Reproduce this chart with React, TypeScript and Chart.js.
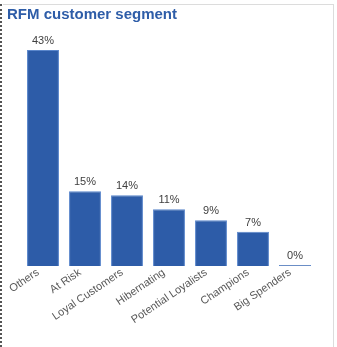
import React, { useEffect, useRef } from "react";
import { Chart, registerables } from "chart.js";

Chart.register(...registerables);

const categories = ["Others", "At Risk", "Loyal Customers", "Hibernating", "Potential Loyalists", "Champions", "Big Spenders"];
const shares = [43.0, 14.9, 14.1, 11.3, 9.1, 6.8, 0.2];
const shareLabels = ["43%", "15%", "14%", "11%", "9%", "7%", "0%"];

const valueLabelPlugin = {
  id: "valueLabels",
  afterDatasetsDraw(chart: any) {
    const ctx = chart.ctx;
    const meta = chart.getDatasetMeta(0);
    ctx.save();
    ctx.font = "11px 'Liberation Sans', Arial, sans-serif";
    ctx.fillStyle = "#404040";
    ctx.textAlign = "center";
    ctx.textBaseline = "alphabetic";
    meta.data.forEach((bar: any, i: number) => {
      ctx.fillText(shareLabels[i], bar.x, bar.y - 6);
    });
    ctx.restore();
  },
};

export default function App() {
  const ref = useRef<HTMLCanvasElement>(null);
  useEffect(() => {
    if (!ref.current) return;
    const chart = new Chart(ref.current, {
      type: "bar",
      data: {
        labels: categories,
        datasets: [
          {
            data: shares,
            backgroundColor: "#2d5ca8",
            borderColor: "#5a86cb",
            borderWidth: 1,
            barPercentage: 0.76,
            categoryPercentage: 1,
          },
        ],
      },
      options: {
        animation: false,
        responsive: false,
        maintainAspectRatio: false,
        layout: { padding: { left: 7, right: 21, top: 0, bottom: 0 } },
        plugins: {
          legend: { display: false },
          tooltip: { enabled: false },
          title: {
            display: true,
            text: "RFM customer segment",
            align: "start",
            color: "#2e5da8",
            font: { family: "'Liberation Sans', Arial, sans-serif", size: 15, weight: "bold" },
            padding: { top: 6, bottom: 16 },
          },
        },
        scales: {
          y: {
            display: true,
            min: 0,
            max: 45,
            grid: { display: false },
            border: { display: false },
            ticks: { display: false },
            afterFit(scale: any) {
              scale.width = 15;
            },
          },
          x: {
            grid: { display: false },
            border: { display: false },
            ticks: {
              color: "#595959",
              font: { family: "'Liberation Sans', Arial, sans-serif", size: 11 },
              minRotation: 34,
              maxRotation: 34,
              autoSkip: false,
              padding: -8,
              labelOffset: -5,
            },
            afterFit(scale: any) {
              scale.height = 81;
            },
          },
        },
      },
      plugins: [valueLabelPlugin],
    });
    return () => chart.destroy();
  }, []);
  return (
    <div style={{ position: "fixed", left: 0, top: 0, width: 337, height: 347, background: "#fff", overflow: "hidden" }}>
      <div style={{ position: "absolute", left: 0, top: 4, width: 0, height: 343, borderLeft: "2px dotted #555" }} />
      <div style={{ position: "absolute", left: 3, top: 4, width: 330, height: 343, borderTop: "1px solid #dcdcdc", borderRight: "1px solid #dcdcdc" }} />
      <canvas ref={ref} width={337} height={347} style={{ position: "absolute", left: 0, top: 0 }} />
    </div>
  );
}
